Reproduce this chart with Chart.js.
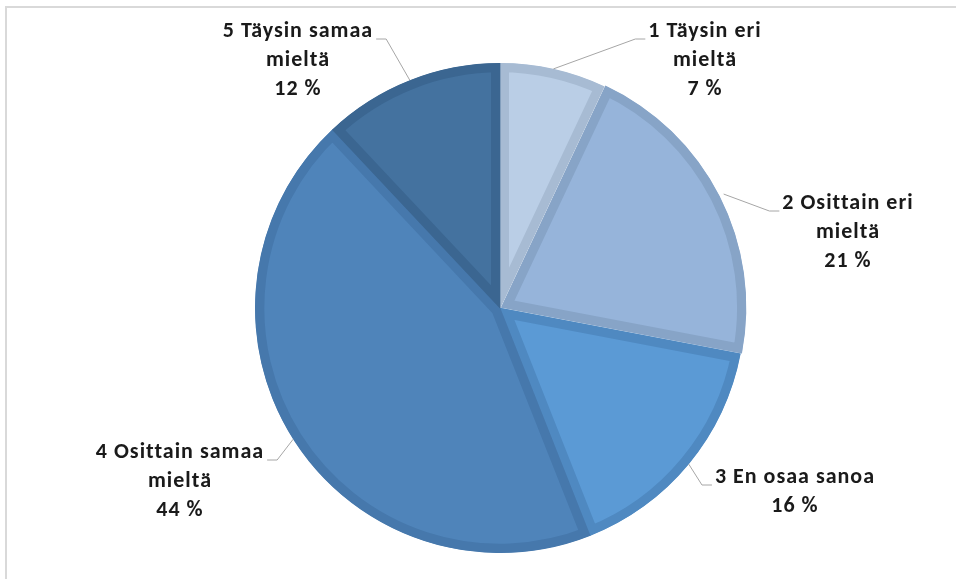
<!DOCTYPE html>
<html>
<head>
<meta charset="utf-8">
<script src="https://cdn.jsdelivr.net/npm/chart.js@4.4.1/dist/chart.umd.min.js"></script>
<style>
  html, body { margin: 0; padding: 0; background: #fff; overflow: hidden; }
  #frame { position: absolute; left: 5px; top: 6px; width: 1000px; height: 700px; border: 2px solid #d9d9d9; }
  #wrap { position: absolute; left: 0; top: 0; width: 956px; height: 579px; }
</style>
</head>
<body>
<div id="frame"></div>
<div id="wrap"><canvas id="pieChart"></canvas></div>
<script>
const categories = ['1 Täysin eri mieltä', '2 Osittain eri mieltä', '3 En osaa sanoa', '4 Osittain samaa mieltä', '5 Täysin samaa mieltä'];
const shares = [7, 21, 16, 44, 12];
// label text split into lines the way the picture wraps them
const labelLines = [
    ['1 Täysin eri', 'mieltä'],
    ['2 Osittain eri', 'mieltä'],
    ['3 En osaa sanoa'],
    ['4 Osittain samaa', 'mieltä'],
    ['5 Täysin samaa', 'mieltä']
];

const fillColors = ['#bacee6', '#96b4da', '#5b9ad5', '#4f84ba', '#44729f'];
const edgeColors = ['#a7bbd3', '#87a4c7', '#4f89c1', '#4678ac', '#3b6691'];

// where each label block sits, relative to the pie centre (px)
const labelPlace = [
    { dx: 205, dy: -277, side: 'left' },
    { dx: 348, dy: -105, side: 'left' },
    { dx: 295, dy: 169, side: 'left' },
    { dx: -320, dy: 144, side: 'right' },
    { dx: -202, dy: -277, side: 'right' }
];

const outsideLabels = {
    id: 'outsideLabels',
    afterDatasetsDraw(chart) {
        const ctx = chart.ctx;
        const meta = chart.getDatasetMeta(0);
        const offsets = chart.data.datasets[0].offset;
        ctx.save();
        ctx.font = 'bold 22px Carlito, "Liberation Sans", Arial, sans-serif';
        ctx.letterSpacing = '1px';
        ctx.textAlign = 'center';
        ctx.textBaseline = 'middle';
        meta.data.forEach((arc, i) => {
            const p = arc.getProps(['x', 'y', 'startAngle', 'endAngle', 'outerRadius'], true);
            const mid = (p.startAngle + p.endAngle) / 2;
            const off = offsets[i] || 0;
            const ex = p.x + Math.cos(mid) * (p.outerRadius + off);
            const ey = p.y + Math.sin(mid) * (p.outerRadius + off);

            const place = labelPlace[i];
            const tx = p.x + place.dx;
            const ty = p.y + place.dy;
            const lines = labelLines[i].concat([shares[i] + ' %']);
            const w = ctx.measureText(lines[0]).width;
            const lineY = ty + 8;
            let edge, elbow;
            if (place.side === 'left') {
                edge = tx - w / 2 - 3;
                elbow = edge - 10;
            } else {
                edge = tx + w / 2 + 3;
                elbow = edge + 10;
            }
            ctx.strokeStyle = '#a6a6a6';
            ctx.lineWidth = 1;
            ctx.beginPath();
            ctx.moveTo(ex, ey);
            ctx.lineTo(elbow, lineY);
            ctx.lineTo(edge, lineY);
            ctx.stroke();

            ctx.fillStyle = '#1a1a1a';
            lines.forEach((t, k) => {
                ctx.fillText(t, tx, ty + k * 29);
            });
        });
        ctx.restore();
    }
};

const ctx = document.getElementById('pieChart').getContext('2d');
const pieChart = new Chart(ctx, {
    type: 'pie',
    data: {
        labels: categories,
        datasets: [{
            data: shares,
            backgroundColor: fillColors,
            borderColor: edgeColors,
            borderWidth: 9,
            borderAlign: 'inner',
            offset: [0, 6, 0, 0, 0],
            hoverOffset: 0
        }]
    },
    options: {
        responsive: true,
        maintainAspectRatio: false,
        animation: false,
        radius: 245,
        layout: {
            padding: { left: 44, top: 37, right: 0, bottom: 0 }
        },
        plugins: {
            legend: { display: false },
            tooltip: { enabled: false }
        }
    },
    plugins: [outsideLabels]
});
</script>
</body>
</html>
